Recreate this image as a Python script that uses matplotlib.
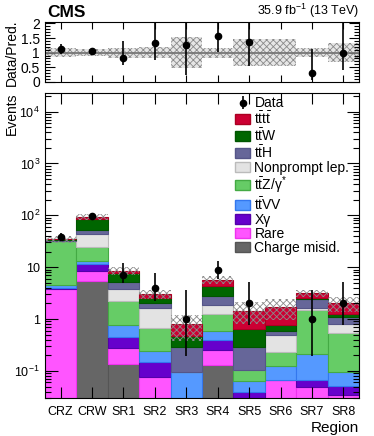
import numpy as np
import matplotlib.pyplot as plt
from matplotlib.ticker import FixedLocator, LogLocator, NullFormatter, FuncFormatter, MultipleLocator
from matplotlib.patches import Patch

plt.rcParams['font.family'] = ['Liberation Sans', 'DejaVu Sans']
plt.rcParams['mathtext.fontset'] = 'custom'
plt.rcParams['mathtext.rm'] = 'Liberation Sans'
plt.rcParams['mathtext.it'] = 'Liberation Sans:italic'
plt.rcParams['mathtext.bf'] = 'Liberation Sans:bold'
plt.rcParams['hatch.linewidth'] = 0.6

regions = ['CRZ', 'CRW', 'SR1', 'SR2', 'SR3', 'SR4', 'SR5', 'SR6', 'SR7', 'SR8']

# background contributions per region (events), stacked bottom -> top
charge_misid = [0.0, 5.5, 0.136, 0.0, 0.0, 0.132, 0.0, 0.0, 0.0, 0.0]
rare = [3.8, 2.8, 0.137, 0.076, 0.0, 0.118, 0.0, 0.066, 0.049, 0.035]
xgamma = [0.1, 3.1, 0.187, 0.071, 0.0, 0.14, 0.039, 0.0, 0.017, 0.016]
ttvv = [0.6, 1.8, 0.32, 0.093, 0.094, 0.21, 0.024, 0.057, 0.144, 0.046]
ttz = [27.5, 11.8, 1.42, 0.42, 0.0, 0.65, 0.043, 0.107, 1.29, 0.443]
nonprompt = [0.6, 18.0, 1.6, 0.94, 0.0, 0.65, 0.0, 0.27, 0.13, 0.26]
tth = [0.5, 9.0, 1.3, 0.4, 0.196, 0.9, 0.179, 0.08, 0.77, 0.28]
ttw = [1.2, 34.0, 2.8, 0.5, 0.19, 1.45, 0.355, 0.19, 0.1, 0.17]
tttt = [0.3, 7.0, 0.6, 0.5, 0.32, 1.45, 0.81, 0.95, 0.66, 0.75]

# relative uncertainty on the total prediction
rel_unc = [0.15, 0.12, 0.17, 0.19, 0.53, 0.17, 0.45, 0.45, 0.16, 0.32]

# observed data and its error bar ends (SR6 has no events)
data = [39, 97, 7, 4, 1, 9, 2, 0, 1, 2]
data_lo = [33, 91, 4.9, 2.25, 0.19, 5.9, 0.78, 0, 0.19, 0.78]
data_hi = [45, 104, 11.8, 7.9, 3.6, 13.2, 5.1, 0, 3.6, 5.1]

procs = [
    (charge_misid, 'Charge misid.', '#666666', '#555555'),
    (rare, 'Rare', '#ff55ff', '#ee33ee'),
    (xgamma, 'Xγ', '#6600cc', '#5500aa'),
    (ttvv, r'$\mathrm{t\bar{t}VV}$', '#5599ff', '#3377ee'),
    (ttz, r'$\mathrm{t\bar{t}Z/\gamma^{*}}$', '#66cc66', '#44aa44'),
    (nonprompt, 'Nonprompt lep.', '#e3e3e3', '#bbbbbb'),
    (tth, r'$\mathrm{t\bar{t}H}$', '#666699', '#555588'),
    (ttw, r'$\mathrm{t\bar{t}W}$', '#006600', '#005500'),
    (tttt, r'$\mathrm{t\bar{t}t\bar{t}}$', '#cc0033', '#aa0022'),
]

x = np.arange(len(regions))
fig = plt.figure(figsize=(3.74, 4.36), dpi=100)
axr = fig.add_axes([0.12, 0.811, 0.84, 0.138])
ax = fig.add_axes([0.12, 0.087, 0.84, 0.700])

bottom = np.zeros(len(x))
handles = []
for vals, label, col, ecol in procs:
    v = np.array(vals, dtype=float)
    ax.bar(x, v, width=1.0, bottom=np.maximum(bottom, 1e-4), color=col,
           edgecolor=ecol, linewidth=0.8)
    handles.append(Patch(facecolor=col, edgecolor=ecol, label=label))
    bottom = bottom + v
total = bottom
unc = np.array(rel_unc)

ax.bar(x, 2 * unc * total, width=1.0, bottom=total * (1 - unc), fill=False,
       hatch='xxxxx', edgecolor='#8a8a8a', linewidth=0)

d = np.array(data, dtype=float)
dlo = np.array(data_lo, dtype=float)
dhi = np.array(data_hi, dtype=float)
m = d > 0
h_data = ax.errorbar(x[m], d[m], yerr=[d[m] - dlo[m], dhi[m] - d[m]], fmt='o',
                     color='k', ms=4.5, elinewidth=1.2, capsize=0, label='Data')

ax.set_yscale('log')
ax.set_ylim(0.03, 2.3e4)
ax.set_xlim(-0.5, 9.5)
ax.set_xticks(x)
ax.set_xticklabels(regions, fontsize=8.5)

def logfmt(v, pos):
    e = int(round(np.log10(v)))
    if e == 0:
        return '1'
    if e == 1:
        return '10'
    return r'$10^{%d}$' % e

ax.yaxis.set_major_locator(LogLocator(base=10, numticks=20))
ax.yaxis.set_major_formatter(FuncFormatter(logfmt))
ax.yaxis.set_minor_locator(LogLocator(base=10, subs=np.arange(2, 10), numticks=20))
ax.yaxis.set_minor_formatter(NullFormatter())
ax.tick_params(axis='both', which='both', direction='in', top=True, right=True, labelsize=9)
ax.tick_params(axis='y', which='major', length=9, width=0.8)
ax.tick_params(axis='y', which='minor', length=4.5, width=0.8)
ax.tick_params(axis='x', which='major', length=8, width=0.8, pad=6)
ax.set_ylabel('Events', fontsize=10, loc='top')
ax.yaxis.set_label_coords(-0.082, 1.0)
ax.set_xlabel('Region', fontsize=11, loc='right', labelpad=2)

leg_handles = [h_data] + handles[::-1]
leg = ax.legend(handles=leg_handles, loc='upper right', bbox_to_anchor=(1.0, 1.02),
                frameon=False, fontsize=10, handlelength=1.1, handleheight=0.75,
                handletextpad=0.3, labelspacing=0.0, borderaxespad=0.3)

# ratio panel
ratio = np.where(m, d / total, np.nan)
axr.bar(x, 2 * unc, width=1.0, bottom=1 - unc, color='#e6e6e6',
        hatch='xxxxx', edgecolor='#8a8a8a', linewidth=0)
axr.axhline(1.0, color='#777777', lw=1.3)
axr.errorbar(x[m], ratio[m], yerr=[(d[m] - dlo[m]) / total[m], (dhi[m] - d[m]) / total[m]],
             fmt='o', color='k', ms=4.5, elinewidth=1.2, capsize=0)
axr.set_xlim(-0.5, 9.5)
axr.set_ylim(-0.02, 2.04)
axr.set_xticks(x)
axr.set_xticklabels([])
axr.yaxis.set_major_locator(FixedLocator([0, 0.5, 1, 1.5, 2]))
axr.yaxis.set_major_formatter(FuncFormatter(lambda v, p: '%g' % v))
axr.yaxis.set_minor_locator(MultipleLocator(0.1))
axr.tick_params(axis='both', which='both', direction='in', top=True, right=True, labelsize=10)
axr.tick_params(axis='y', which='major', length=7, width=0.8)
axr.tick_params(axis='y', which='minor', length=3.5, width=0.8)
axr.tick_params(axis='x', which='major', length=5, width=0.8)
axr.set_ylabel('Data/Pred.', fontsize=10)
axr.yaxis.set_label_coords(-0.082, 0.5)

fig.text(0.125, 0.953, 'CMS', fontsize=12.5, fontweight='bold', ha='left', va='bottom')
fig.text(0.96, 0.953, r'35.9 fb$^{-1}$ (13 TeV)', fontsize=9, ha='right', va='bottom')

fig.savefig('out.png', dpi=100)
